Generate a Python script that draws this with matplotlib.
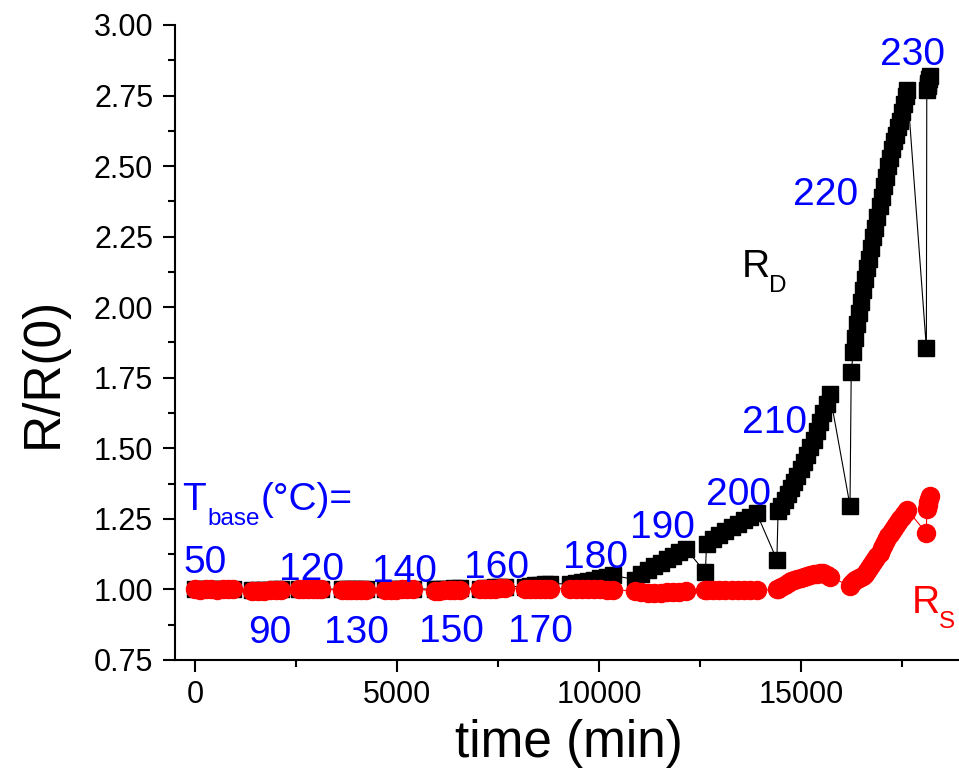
import matplotlib
matplotlib.use("Agg")
import matplotlib.pyplot as plt
from matplotlib.ticker import MultipleLocator, FormatStrFormatter

plt.rcParams['font.family'] = ['Liberation Sans', 'DejaVu Sans']

# annealing steps, one block per base temperature (lone first point = value right after the step)
time_min = [
    0, 135, 270, 405, 540, 680, 815, 950,                               # 50
    1420, 1565, 1710, 1850, 1995, 2140,                                 # 90
    2570, 2680, 2790, 2910, 3020, 3130,                                 # 120
    3630, 3750, 3870, 3980, 4100, 4220,                                 # 130
    4700, 4840, 4980, 5110, 5250, 5390,                                 # 140
    5930, 6050, 6170, 6300, 6420, 6550,                                 # 150
    7050, 7170, 7300, 7420, 7550, 7670,                                 # 160
    8160, 8280, 8410, 8530, 8660, 8780,                                 # 170
    9270, 9420, 9570, 9720, 9880, 10030, 10190, 10340,                  # 180
    10880, 11040, 11200, 11360, 11520, 11670, 11830, 11990, 12150,      # 190
    12630, 12660, 12815, 12970, 13125, 13280, 13435, 13590, 13745, 13900,  # 200
    14400, 14430, 14510, 14590, 14670, 14750, 14830, 14910, 14990, 15070,
    15150, 15230, 15310, 15390, 15470, 15550, 15630, 15710,             # 210
    16210, 16240, 16290, 16340, 16390, 16440, 16490, 16540, 16590, 16640,
    16690, 16740, 16790, 16840, 16890, 16940, 16990, 17040, 17090, 17140,
    17190, 17240, 17290, 17340, 17390, 17440, 17490, 17540, 17590, 17630,  # 220
    18100, 18110, 18130, 18150, 18170, 18190,                           # 230
]

r_d = [
    1.000, 1.000, 1.001, 1.000, 1.000, 1.001, 1.000, 1.000,
    0.998, 0.998, 0.999, 0.999, 1.000, 1.000,
    1.000, 1.001, 1.001, 1.001, 1.002, 1.002,
    1.000, 1.000, 1.001, 1.001, 1.001, 1.001,
    1.000, 1.001, 1.001, 1.002, 1.002, 1.003,
    1.000, 1.001, 1.002, 1.003, 1.004, 1.005,
    1.003, 1.004, 1.006, 1.007, 1.009, 1.010,
    1.010, 1.012, 1.014, 1.016, 1.018, 1.020,
    1.020, 1.023, 1.027, 1.031, 1.035, 1.040, 1.045, 1.050,
    1.035, 1.055, 1.069, 1.082, 1.094, 1.107, 1.119, 1.132, 1.144,
    1.060, 1.161, 1.178, 1.193, 1.207, 1.220, 1.233, 1.246, 1.258, 1.270,
    1.105, 1.278, 1.297, 1.316, 1.337, 1.358, 1.379, 1.401, 1.425, 1.450,
    1.477, 1.503, 1.531, 1.560, 1.592, 1.624, 1.658, 1.693,
    1.297, 1.770, 1.840, 1.890, 1.940, 1.980, 2.020, 2.060, 2.100, 2.140,
    2.170, 2.210, 2.250, 2.280, 2.320, 2.360, 2.390, 2.430, 2.460, 2.500,
    2.530, 2.560, 2.590, 2.610, 2.640, 2.660, 2.690, 2.720, 2.750, 2.770,
    1.855, 2.770, 2.785, 2.795, 2.808, 2.818,
]

r_s = [
    1.000, 0.999, 1.001, 1.000, 0.999, 1.000, 1.001, 1.000,
    0.996, 0.995, 0.996, 0.997, 0.998, 0.998,
    1.000, 1.001, 1.001, 1.002, 1.002, 1.001,
    0.997, 0.998, 0.998, 0.999, 0.999, 0.999,
    0.997, 0.998, 0.999, 1.000, 1.001, 1.002,
    0.995, 0.996, 0.997, 0.997, 0.998, 0.998,
    1.000, 1.001, 1.002, 1.003, 1.004, 1.005,
    1.000, 1.000, 1.001, 1.001, 1.002, 1.002,
    1.003, 1.003, 1.002, 1.001, 1.000, 1.000, 0.999, 0.998,
    0.995, 0.991, 0.989, 0.988, 0.989, 0.990, 0.991, 0.992, 0.993,
    0.998, 0.998, 0.997, 0.997, 0.998, 0.998, 0.999, 0.998, 0.997, 0.997,
    1.000, 1.000, 1.008, 1.016, 1.023, 1.029, 1.034, 1.037, 1.040, 1.044,
    1.048, 1.051, 1.053, 1.056, 1.058, 1.057, 1.051, 1.045,
    1.012, 1.018, 1.025, 1.032, 1.038, 1.042, 1.045, 1.048, 1.055, 1.065,
    1.076, 1.088, 1.098, 1.108, 1.118, 1.130, 1.145, 1.160, 1.175, 1.188,
    1.198, 1.208, 1.217, 1.228, 1.238, 1.248, 1.258, 1.267, 1.276, 1.282,
    1.200, 1.285, 1.298, 1.310, 1.320, 1.330,
]

# base temperature labels: text, x centre, baseline y
step_labels = ['50', '90', '120', '130', '140', '150', '160',
               '170', '180', '190', '200', '210', '220', '230']
step_label_x = [248, 1856, 2871, 3985, 5173, 6336, 7450,
                8539, 9900, 11558, 13439, 14330, 15617, 17746]
step_label_y = [1.057, 0.810, 1.034, 0.810, 1.027, 0.814, 1.041,
                0.814, 1.076, 1.183, 1.299, 1.553, 2.363, 2.859]

fig = plt.figure(figsize=(9.59, 7.78), dpi=100)
ax = fig.add_axes([0.1823, 0.1517, 0.8216, 0.8162])

ax.plot(time_min, r_d, '-s', color='black', lw=0.8, ms=12, mec='black', zorder=2)
ax.plot(time_min, r_s, '-o', color='red', lw=0.8, ms=13, mec='red', zorder=3)

for txt, x, y in zip(step_labels, step_label_x, step_label_y):
    ax.text(x, y, txt, color='blue', fontsize=28, ha='center', va='baseline', zorder=4)


def label_with_sub(x, y, main, sub, color, rest='', sub_dx=20, rest_dx=0):
    # main text in data coords, subscript and trailing text shifted in points
    ax.text(x, y, main, color=color, fontsize=28, ha='left', va='baseline')
    ax.annotate(sub, xy=(x, y), xytext=(sub_dx, -10.8), textcoords='offset points',
                color=color, fontsize=17.5, ha='left', va='baseline')
    if rest:
        ax.annotate(rest, xy=(x, y), xytext=(rest_dx, 0), textcoords='offset points',
                    color=color, fontsize=28, ha='left', va='baseline')


label_with_sub(-330, 1.282, 'T', 'base', 'blue', rest='(°C)=', sub_dx=18.5, rest_dx=57)
label_with_sub(13540, 2.107, 'R', 'D', 'black', sub_dx=19.5)
label_with_sub(17750, 0.917, 'R', 'S', 'red', sub_dx=19.5)

ax.set_xlim(-500, 19000)
ax.set_ylim(0.75, 3.0)
ax.xaxis.set_major_locator(MultipleLocator(5000))
ax.xaxis.set_minor_locator(MultipleLocator(2500))
ax.yaxis.set_major_locator(MultipleLocator(0.25))
ax.yaxis.set_minor_locator(MultipleLocator(0.125))
ax.yaxis.set_major_formatter(FormatStrFormatter('%.2f'))

for side in ['top', 'right']:
    ax.spines[side].set_visible(False)
for side in ['left', 'bottom']:
    ax.spines[side].set_linewidth(1.5)

ax.tick_params(which='both', direction='out', width=1.5, labelsize=22)
ax.tick_params(which='major', length=8.6)
ax.tick_params(which='minor', length=5)
ax.tick_params(axis='y', which='major', pad=7)
ax.tick_params(axis='x', which='major', pad=6)

ax.set_xlabel('time (min)', fontsize=37)
ax.xaxis.set_label_coords(0.5, -0.093)
ax.set_ylabel('R/R(0)', fontsize=37)
ax.yaxis.set_label_coords(-0.1356, 0.4535)

fig.savefig('out.png', dpi=100)
